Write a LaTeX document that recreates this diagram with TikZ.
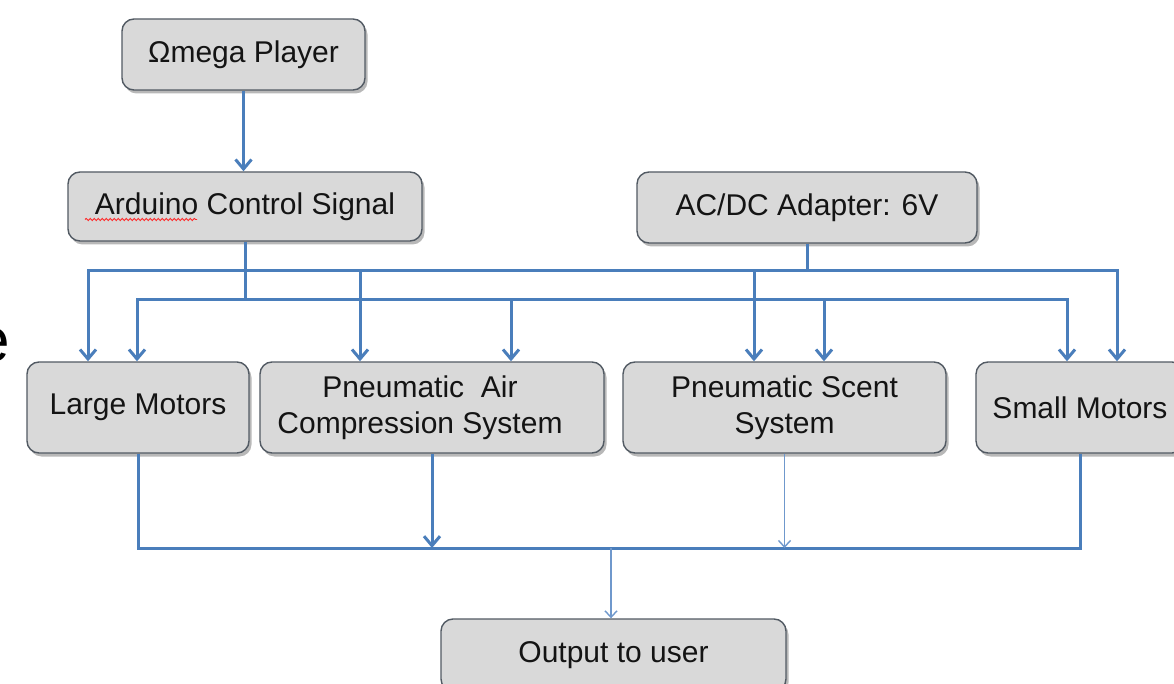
\documentclass[tikz,border=0pt]{standalone}
\usepackage{fontspec}
\setmainfont{Liberation Sans}
\usetikzlibrary{arrows.meta,shadows,decorations.pathmorphing}

\definecolor{wireblue}{HTML}{4A7EBB}
\definecolor{thinblue}{HTML}{6F98CC}
\definecolor{boxfill}{HTML}{D9D9D9}
\definecolor{boxedge}{HTML}{525A63}
\definecolor{textgray}{HTML}{141414}

\tikzset{
  block/.style={draw=boxedge, line width=1.4pt, fill=boxfill, rounded corners=12pt,
    minimum height=91pt, inner sep=0pt, align=center, text=textgray,
    font=\fontsize{30}{36}\selectfont,
    drop shadow={shadow xshift=2.5pt, shadow yshift=-3.5pt, opacity=0.28, fill=black}},
  wire/.style={draw=wireblue, line width=3pt, line join=miter},
  thinwire/.style={draw=thinblue, line width=1.4pt},
  tip/.style={-{Straight Barb[length=9.5pt,width=16pt]}},
  twotip/.style={{Straight Barb[length=9.5pt,width=16pt]}-{Straight Barb[length=9.5pt,width=16pt]}},
  thintip/.style={-{Straight Barb[length=6.5pt,width=12pt]}},
}

\begin{document}
\begin{tikzpicture}[x=1pt,y=-1pt]
\useasboundingbox (0,0) rectangle (1174,684);
\clip (0,0) rectangle (1174,684);
\fill[white] (0,0) rectangle (1174,684);

% stray letter at the left edge
\node[anchor=east, inner sep=0pt, font=\fontsize{62}{70}\selectfont] (edge) at (10,345) {e};

% blocks
\node[block, minimum width=243pt, minimum height=71pt] (omega) at (243.5,54.5) {Ωmega Player};
\node[block, minimum width=354pt, minimum height=69pt] (arduino) at (245,206.5) {Arduino Control Signal};
\node[block, minimum width=340pt, minimum height=71pt] (acdc) at (807,207.5) {AC/DC Adapter: 6V};

\node[block, minimum width=222pt] (large) at (138,407.5) {Large Motors};
\node[block, minimum width=344pt] (air) at (432,407.5)
  {Pneumatic\ \ Air\hspace*{24pt}\\Compression System\hspace*{24pt}};
\node[block, minimum width=323pt] (scent) at (784.5,407.5) {Pneumatic Scent\\System};
\node[block, minimum width=208pt] (small) at (1080,407.5) {Small Motors};

\node[block, minimum width=345pt, minimum height=72pt] (output) at (613.5,655) {Output to user};

% spell-check underline
\draw[red!85!white, line width=0.9pt, decorate,
      decoration={snake, amplitude=1.1pt, segment length=4pt}]
  ([xshift=-160pt,yshift=-13pt]arduino.center) -- ([xshift=-48pt,yshift=-13pt]arduino.center);

% bus coordinates
\coordinate (aL) at (88,271);   \coordinate (aR) at (1117,271);
\coordinate (bL) at (137,300);  \coordinate (bR) at (1067,300);
\coordinate (cB) at (0,548);

% top chain
\draw[wire, tip] (omega.south) -- (omega.south |- arduino.north);

% feeds into the buses
\draw[wire] (arduino.south) -- (arduino.south |- bL);
\draw[wire] (acdc.south) -- (acdc.south |- aL);

% upper bus
\draw[wire, twotip] (aL |- large.north) -- (aL) -- (aR) -- (aR |- small.north);
\draw[wire, tip] (360,271) -- (360,271 |- air.north);
\draw[wire, tip] (754,271) -- (754,271 |- scent.north);

% lower bus
\draw[wire, twotip] (bL |- large.north) -- (bL) -- (bR) -- (bR |- small.north);
\draw[wire, tip] (511,300) -- (511,300 |- air.north);
\draw[wire, tip] (824,300) -- (824,300 |- scent.north);

% collecting bus
\draw[wire] (large.south) -- (large.south |- cB) -- (small.south |- cB) -- (small.south);
\draw[wire, tip] (air.south) -- (air.south |- cB);
\draw[thinwire, thintip] (scent.south) -- (scent.south |- cB);
\draw[thinwire, thintip] ([xshift=-2.5pt]output.north |- cB) -- ([xshift=-2.5pt]output.north);
\end{tikzpicture}
\end{document}
